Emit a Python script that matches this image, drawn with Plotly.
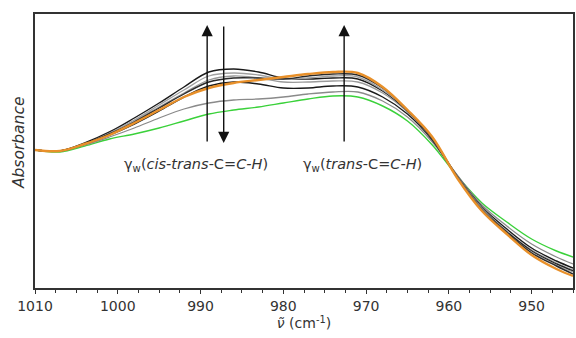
import plotly.graph_objects as go

# wavenumbers (cm-1)
wn = [1010, 1007, 1004, 1001, 998, 995, 992, 989, 986, 983, 980, 977, 974, 971, 968, 965, 962, 959, 956, 953, 950, 947, 945]

# absorbance (arbitrary units)
def A(vals):
    return [round((288 - v) / 100, 3) for v in vals]

green  = A([150, 152, 146, 139, 134, 128, 121, 114, 110, 107, 103, 99, 96, 97, 106, 121, 145, 176, 203, 222, 239, 251, 257])
gray1  = A([150, 151, 145, 137, 128, 118, 109, 103, 100, 99, 97, 94, 92, 92, 101, 117, 142, 175, 205, 226, 244, 257, 264])
black1 = A([150, 151, 144, 135, 124, 111, 97, 86, 82, 84, 88, 88, 86, 87, 97, 114, 140, 176, 207, 229, 248, 261, 268])
gray2  = A([150, 151, 144, 134, 121, 107, 93, 80, 76, 78, 82, 82, 81, 82, 93, 112, 139, 176, 208, 231, 250, 263, 270])
black2 = A([150, 151, 143, 132, 118, 103, 87, 72, 69, 72, 78, 79, 78, 79, 91, 111, 139, 177, 209, 232, 251, 264, 271])
gray3  = A([150, 151, 144, 133, 120, 105, 90, 76, 73, 75, 79, 78, 76, 77, 90, 110, 138, 177, 209, 233, 252, 265, 272])
black3 = A([150, 151, 144, 134, 122, 108, 94, 82, 78, 78, 79, 76, 74, 75, 88, 110, 138, 177, 210, 233, 253, 266, 274])
orange = A([150, 151, 144, 135, 123, 110, 97, 88, 83, 80, 77, 74, 72, 73, 87, 110, 137, 178, 211, 234, 255, 269, 276])

series = [
    ("green", green, "#3ad13a", 1.4),
    ("gray1", gray1, "#8a8a8a", 1.3),
    ("black1", black1, "#1a1a1a", 1.4),
    ("gray2", gray2, "#9a9a9a", 1.3),
    ("black2", black2, "#1a1a1a", 1.4),
    ("gray3", gray3, "#a0a0a0", 1.3),
    ("black3", black3, "#2a2a2a", 1.4),
    ("orange", orange, "#e8902a", 2.4),
]

fig = go.Figure()
for name, ys, col, w in series:
    fig.add_trace(go.Scatter(x=wn, y=ys, mode="lines", name=name,
                             line=dict(color=col, width=w, shape="spline", smoothing=1.0)))

font = "DejaVu Sans"
txtcol = "#333333"

# arrows
y_lo, y_hi = (288 - 143) / 100, (288 - 25) / 100
arrows = [(989.2, y_lo, y_hi), (987.2, y_hi, y_lo), (972.65, y_lo, y_hi)]
for xa, y0, y1 in arrows:
    fig.add_annotation(x=xa, y=y1, ax=xa, ay=y0, xref="x", yref="y", axref="x", ayref="y",
                       showarrow=True, arrowhead=2, arrowsize=1.6, arrowwidth=1.4,
                       arrowcolor="#111111", text="")

fig.add_annotation(x=990.6, y=(288 - 165) / 100, xref="x", yref="y", showarrow=False,
                   text="γ<sub>w</sub>(<i>cis-trans</i>-C=<i>C-H</i>)",
                   font=dict(family=font, size=14.5, color=txtcol))
fig.add_annotation(x=970.4, y=(288 - 165) / 100, xref="x", yref="y", showarrow=False,
                   text="γ<sub>w</sub>(<i>trans</i>-C=<i>C-H</i>)",
                   font=dict(family=font, size=14.5, color=txtcol))

# y-axis title as annotation (positioned like the reference)
fig.add_annotation(x=-27 / 540, y=(288 - 143) / 274, xref="paper", yref="paper",
                   xanchor="left", yanchor="middle", showarrow=False, textangle=-90,
                   text="<i>Absorbance</i>", font=dict(family=font, size=15.5, color=txtcol))

fig.update_layout(
    width=576, height=338,
    margin=dict(l=35, r=1, t=14, b=50),
    paper_bgcolor="white", plot_bgcolor="white",
    showlegend=False,
    font=dict(family=font, size=14, color=txtcol),
)
fig.update_xaxes(range=[1010, 945], tickmode="array",
                 tickvals=[1010, 1000, 990, 980, 970, 960, 950],
                 ticktext=["1010", "1000", "990", "980", "970", "960", "950"],
                 ticks="outside", ticklen=4, tickwidth=1.2, tickcolor="#333",
                 minor=dict(tickmode="linear", tick0=1010, dtick=2.5, ticks="outside", ticklen=3, tickcolor="#333"),
                 showline=True, linecolor="#333", linewidth=1.5, mirror=True,
                 showgrid=False, zeroline=False,
                 tickfont=dict(family=font, size=14, color=txtcol),
                 title=dict(text="<i>ν̃</i> (cm<sup>-1</sup>)", standoff=4,
                            font=dict(family=font, size=14, color=txtcol)))
fig.update_yaxes(range=[0, 2.74], showticklabels=False, ticks="",
                 showline=True, linecolor="#333", linewidth=1.5, mirror=True,
                 showgrid=False, zeroline=False)

fig.write_html("out.html")
